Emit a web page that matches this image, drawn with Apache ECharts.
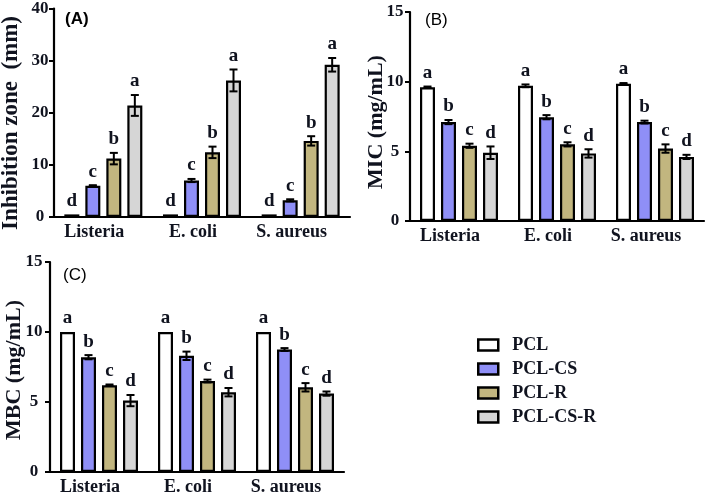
<!DOCTYPE html>
<html>
<head>
<meta charset="utf-8">
<script src="https://cdn.jsdelivr.net/npm/echarts@6/dist/echarts.min.js"></script>
<style>html,body{margin:0;padding:0;background:#fff;}#c{width:708px;height:498px;}</style>
</head>
<body>
<div id="c"></div>
<script>
// ---- data ----
const categories = ['Listeria', 'E. coli', 'S. aureus'];
const seriesNames = ['PCL', 'PCL-CS', 'PCL-R', 'PCL-CS-R'];

// (A) Inhibition zone (mm)
const zonePCL = [0.5, 0.5, 0.5];
const zonePCLErr = [0, 0, 0];
const zoneCS = [6.0, 7.0, 3.2];
const zoneCSErr = [0.1, 0.3, 0.2];
const zoneR = [11.2, 12.4, 14.6];
const zoneRErr = [1.1, 1.1, 0.9];
const zoneCSR = [21.4, 26.2, 29.2];
const zoneCSRErr = [2.0, 2.1, 1.3];
const zoneLetters = [['d','d','d'], ['c','c','c'], ['b','b','b'], ['a','a','a']];

// (B) MIC (mg/mL)
const micPCL = [9.6, 9.7, 9.85];
const micPCLErr = [0.05, 0.1, 0.05];
const micCS = [7.1, 7.45, 7.1];
const micCSErr = [0.15, 0.15, 0.1];
const micR = [5.4, 5.5, 5.2];
const micRErr = [0.15, 0.15, 0.3];
const micCSR = [4.9, 4.85, 4.6];
const micCSRErr = [0.45, 0.3, 0.15];
const micLetters = [['a','a','a'], ['b','b','b'], ['c','c','c'], ['d','d','d']];

// (C) MBC (mg/mL)
const mbcPCL = [10, 10, 10];
const mbcPCLErr = [0, 0, 0];
const mbcCS = [8.2, 8.3, 8.75];
const mbcCSErr = [0.15, 0.3, 0.1];
const mbcR = [6.2, 6.5, 6.05];
const mbcRErr = [0.05, 0.1, 0.3];
const mbcCSR = [5.1, 5.7, 5.6];
const mbcCSRErr = [0.4, 0.3, 0.15];
const mbcLetters = [['a','a','a'], ['b','b','b'], ['c','c','c'], ['d','d','d']];

const yTitles = ['Inhibition zone  (mm)', 'MIC (mg/mL)', 'MBC (mg/mL)'];
const panelTags = ['(A)', '(B)', '(C)'];
const yMax = [40, 15, 15];
const yInterval = [10, 5, 5];

// ---- styles ----
const colors = ['#ffffff', '#8f8ff7', '#c2b67f', '#d6d6d6'];
const serif = '"Liberation Serif", "Times New Roman", serif';
const ink = '#10131f';
const BAR_W = 15, BAR_STEP = 21;

const panels = [
  { vals: [zonePCL, zoneCS, zoneR, zoneCSR], errs: [zonePCLErr, zoneCSErr, zoneRErr, zoneCSRErr], letters: zoneLetters },
  { vals: [micPCL, micCS, micR, micCSR], errs: [micPCLErr, micCSErr, micRErr, micCSRErr], letters: micLetters },
  { vals: [mbcPCL, mbcCS, mbcR, mbcCSR], errs: [mbcPCLErr, mbcCSErr, mbcRErr, mbcCSRErr], letters: mbcLetters }
];

const grids = [
  { left: 54, top: 7, width: 296, height: 210 },
  { left: 410, top: 12, width: 294, height: 209 },
  { left: 50, top: 262, width: 294, height: 210 }
];
const yLabelMargin = [14, 15, 16];

const xAxes = grids.map((g, i) => ({
  type: 'category', gridIndex: i, data: categories,
  axisLine: { lineStyle: { color: '#000', width: 2.2 } },
  axisTick: { alignWithLabel: true, length: 5, lineStyle: { color: '#000', width: 2 } },
  axisLabel: { color: ink, fontFamily: serif, fontWeight: 'bold', fontSize: 18, margin: 6, padding: [0, 18, 0, 0] }
}));
const yAxes = grids.map((g, i) => ({
  type: 'value', gridIndex: i, min: 0, max: yMax[i], interval: yInterval[i],
  splitLine: { show: false },
  axisLine: { show: true, lineStyle: { color: '#000', width: 2.2 } },
  axisTick: { show: true, length: 5, lineStyle: { color: '#000', width: 2 } },
  axisLabel: { color: ink, fontFamily: serif, fontWeight: 'bold', fontSize: 17, margin: yLabelMargin[i], align: 'center' }
}));

const series = [];
panels.forEach((p, gi) => {
  p.vals.forEach((vals, k) => {
    series.push({
      type: 'bar', name: seriesNames[k], xAxisIndex: gi, yAxisIndex: gi,
      data: vals, barWidth: BAR_W, barGap: '40%',
      itemStyle: { color: colors[k], borderColor: '#000', borderWidth: 2.2 },
      z: 2
    });
  });
  p.vals.forEach((vals, k) => {
    const off = (k - 1.5) * BAR_STEP;
    const errs = p.errs[k];
    const lets = p.letters[k];
    series.push({
      type: 'custom', name: 'err-' + gi + '-' + k, xAxisIndex: gi, yAxisIndex: gi,
      silent: true, z: 5,
      data: vals.map((v, i) => [i, v, errs[i]]),
      renderItem: function (params, api) {
        const c = api.value(0), v = api.value(1), e = api.value(2);
        const base = api.coord([c, v]);
        const x = base[0] + off;
        const top = api.coord([c, v + e])[1];
        const bot = api.coord([c, v - e])[1];
        const children = [];
        if (e > 0) {
          const ls = { stroke: '#000', lineWidth: 2 };
          children.push({ type: 'line', shape: { x1: x, y1: top, x2: x, y2: bot }, style: ls });
          children.push({ type: 'line', shape: { x1: x - 4, y1: top, x2: x + 4, y2: top }, style: ls });
          children.push({ type: 'line', shape: { x1: x - 4, y1: bot, x2: x + 4, y2: bot }, style: ls });
        }
        children.push({
          type: 'text',
          style: { text: lets[params.dataIndex], x: x, y: top - 4, textAlign: 'center', textVerticalAlign: 'bottom',
                   font: 'bold 19px ' + serif, fill: ink }
        });
        return { type: 'group', children: children };
      }
    });
  });
});

const titlePos = [[11, 123, 23], [376, 122, 22], [14, 370, 22]];
const tagPos = [[65, 11, 'bold'], [425, 12, 'normal'], [63, 267, 'normal']];
const graphics = [];
titlePos.forEach((t, i) => {
  graphics.push({
    type: 'text', x: t[0], y: t[1], rotation: Math.PI / 2,
    style: { text: yTitles[i], textAlign: 'center', textVerticalAlign: 'middle',
             font: 'bold ' + t[2] + 'px ' + serif, fill: ink }
  });
});
tagPos.forEach((t, i) => {
  graphics.push({
    type: 'text', x: t[0], y: t[1],
    style: { text: panelTags[i], font: t[2] + ' 17px "Liberation Sans", Arial, sans-serif', fill: '#000' }
  });
});

const chart = echarts.init(document.getElementById('c'), null, { renderer: 'canvas' });
chart.setOption({
  animation: false,
  backgroundColor: '#fff',
  grid: grids,
  xAxis: xAxes,
  yAxis: yAxes,
  legend: {
    data: seriesNames, orient: 'vertical', left: 472, top: 331,
    icon: 'rect', itemWidth: 20, itemHeight: 11, itemGap: 6,
    itemStyle: { borderColor: '#000', borderWidth: 2.5 },
    textStyle: { color: ink, fontFamily: serif, fontWeight: 'bold', fontSize: 18, lineHeight: 18, padding: [0, 0, 0, 9] },
    selectedMode: false
  },
  graphic: graphics,
  series: series
});
</script>
</body>
</html>
